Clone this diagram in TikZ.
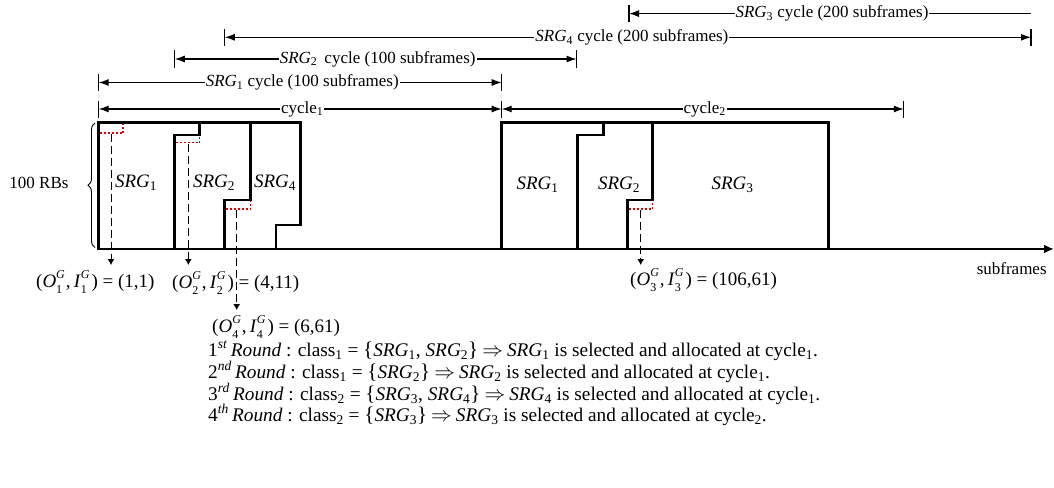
\documentclass[tikz,border=0pt]{standalone}
\usepackage{fontspec}
\setmainfont{Liberation Serif}
\usetikzlibrary{arrows.meta,decorations.pathreplacing}
\newcommand\srg[1]{\textit{SRG}\textsubscript{#1}}
\newcommand\supsubG[1]{\rlap{\raisebox{-0.32em}{\fontsize{12}{12}\selectfont #1}}\raisebox{0.46em}{\fontsize{12}{12}\selectfont\textit{G}}}
\newcommand\oig[1]{(\textit{O}\supsubG{#1}\kern1pt,\,\textit{I}\supsubG{#1}\kern2pt)}
\newcommand\clsx[1]{class\textsubscript{#1}}
\newcommand\lbr{{\fontsize{21}{21}\selectfont\{}}
\newcommand\rbr{{\fontsize{21}{21}\selectfont\}}}
\newcommand\impl{\kern4pt$\Rightarrow$\kern4pt}
\begin{document}
\begin{tikzpicture}[x=1pt,y=-1pt,
  font=\fontsize{17}{20}\selectfont,
  outline/.style={line width=2.5pt,line join=miter},
  dimln/.style={line width=1.1pt},
  barln/.style={line width=1.1pt},
  reddot/.style={draw=red!85!black,line width=1.4pt,dash pattern=on 2pt off 2pt},
  guide/.style={line width=0.9pt,dash pattern=on 8pt off 4pt,-{Latex[length=6pt,width=7pt]}},
  lbl/.style={fill=white,inner xsep=1pt,inner ysep=0pt},
  boxlbl/.style={font=\fontsize{19}{22}\selectfont},
  coordlbl/.style={font=\fontsize{19}{22}\selectfont,inner sep=0pt},
  rnd/.style={anchor=base west,inner sep=0pt,font=\fontsize{19.3}{22}\selectfont}]
\useasboundingbox (0,0) rectangle (1054,487);
% dimension coordinates
\coordinate (s3L) at (629,13.6);   \coordinate (s3R) at (1031,13.6);
\coordinate (s4L) at (224.8,37.3); \coordinate (s4R) at (1031,37.3);
\coordinate (s2L) at (174.8,59);   \coordinate (s2R) at (576.5,59);
\coordinate (s1L) at (98.7,82.5);  \coordinate (s1R) at (501.7,82.5);
\coordinate (c1L) at (98.7,109);   \coordinate (c1R) at (501.7,109);
\coordinate (c2R) at (903.8,109);
\draw[dimln,{Latex[length=10pt,width=7pt]}-] (s3L) -- node[lbl,pos=0.505](t3){\srg{3} cycle (200 subframes)} (s3R);
\draw[dimln,{Latex[length=10pt,width=7pt]}-{Latex[length=10pt,width=7pt]}] (s4L) -- node[lbl,pos=0.505](t4){\srg{4} cycle (200 subframes)} (s4R);
\draw[dimln,{Latex[length=10pt,width=7pt]}-{Latex[length=10pt,width=7pt]}] (s2L) -- node[lbl,pos=0.505](t2){\srg{2}\, cycle (100 subframes)} (s2R);
\draw[dimln,{Latex[length=10pt,width=7pt]}-{Latex[length=10pt,width=7pt]}] (s1L) -- node[lbl,pos=0.505](t1){\srg{1} cycle (100 subframes)} (s1R);
\draw[dimln,{Latex[length=10pt,width=7pt]}-{Latex[length=10pt,width=7pt]}] (c1L) -- node[lbl,pos=0.505](tc1){cycle\textsubscript{1}} (c1R);
\draw[dimln,{Latex[length=10pt,width=7pt]}-{Latex[length=10pt,width=7pt]}] (c1R) -- node[lbl,pos=0.505](tc2){cycle\textsubscript{2}} (c2R);
\foreach \c in {s3L,s4L,s4R,s2L,s2R,s1L,s1R,c1L,c1R,c2R}
  \draw[barln] ([yshift=8.5pt]\c) -- ([yshift=-8.5pt]\c);
% axis
\coordinate (axL) at (97,249); \coordinate (axR) at (1054,249);
\draw[line width=2.5pt,-{Latex[length=10pt,width=9pt]}] (axL) -- (axR);
\node[anchor=center] (sub) at (1011.7,268.3) {subframes};
% brace
\draw[line width=0.9pt,decorate,decoration={brace,amplitude=7pt}] (95,247.5) -- (95,123);
\node (rbs) at (39,183) {100 RBs};
% cycle 1 blocks
\draw[outline] (98.3,249) -- (98.3,122.3) -- (300.7,122.3) -- (300.7,225) -- (276,225) -- (276,249);
\draw[outline] (174.3,249) -- (174.3,135) -- (199.3,135) -- (199.3,122.3);
\draw[outline] (224.3,249) -- (224.3,200) -- (250.7,200) -- (250.7,122.3);
% cycle 2 blocks
\draw[outline] (501.7,249) -- (501.7,122.3) -- (828.3,122.3) -- (828.3,249);
\draw[outline] (577.3,249) -- (577.3,135) -- (603.3,135) -- (603.3,122.3);
\draw[outline] (627.7,249) -- (627.7,200) -- (652.7,200) -- (652.7,122.3);
% red dotted marks
\draw[reddot] (99.5,133) -- (123,133) -- (123,123.5);
\draw[reddot] (175.5,142.7) -- (199.3,142.7) -- (199.3,136.2);
\draw[reddot] (225.5,209) -- (250.7,209) -- (250.7,201.2);
\draw[reddot] (628.9,209) -- (652.7,209) -- (652.7,201.2);
% guide lines
\coordinate (g1a) at (111,133.8);  \coordinate (g1b) at (111,265);
\coordinate (g2a) at (188.3,143.5); \coordinate (g2b) at (188.3,265);
\coordinate (g4a) at (236.7,209.8); \coordinate (g4b) at (236.7,310);
\coordinate (g3a) at (640.7,209.8); \coordinate (g3b) at (640.7,265);
\draw[guide] (g1a) -- (g1b);
\draw[guide] (g2a) -- (g2b);
\draw[guide] (g4a) -- (g4b);
\draw[guide] (g3a) -- (g3b);
% block labels
\node[boxlbl] (b11) at (136,183) {\srg{1}};
\node[boxlbl] (b12) at (214,183) {\srg{2}};
\node[boxlbl] (b14) at (275,183) {\srg{4}};
\node[boxlbl] (b21) at (537.5,185) {\srg{1}};
\node[boxlbl] (b22) at (619,185) {\srg{2}};
\node[boxlbl] (b23) at (732.5,185) {\srg{3}};
% coordinate labels
\node[coordlbl,anchor=west] (o1) at (36,282) {\oig{1} = (1,1)};
\node[coordlbl,anchor=west] (o2) at (172,283) {\oig{2} = (4,11)};
\node[coordlbl,anchor=west] (o4) at (212,327) {\oig{4} = (6,61)};
\node[coordlbl,anchor=west] (o3) at (630,280) {\oig{3} = (106,61)};
% rounds
\node[rnd] (r1) at (208,356) {1\textsuperscript{\textit{st}}\,\textit{Round} : \clsx{1} = \lbr\srg{1}, \srg{2}\rbr\impl\srg{1} is selected and allocated at cycle\textsubscript{1}.};
\node[rnd] (r2) at (208,378) {2\textsuperscript{\textit{nd}}\,\textit{Round} : \clsx{1} = \lbr\srg{2}\rbr\impl\srg{2} is selected and allocated at cycle\textsubscript{1}.};
\node[rnd] (r3) at (208,400) {3\textsuperscript{\textit{rd}}\,\textit{Round} : \clsx{2} = \lbr\srg{3}, \srg{4}\rbr\impl\srg{4} is selected and allocated at cycle\textsubscript{1}.};
\node[rnd] (r4) at (208,421) {4\textsuperscript{\textit{th}}\,\textit{Round} : \clsx{2} = \lbr\srg{3}\rbr\impl\srg{3} is selected and allocated at cycle\textsubscript{2}.};
\end{tikzpicture}
\end{document}
